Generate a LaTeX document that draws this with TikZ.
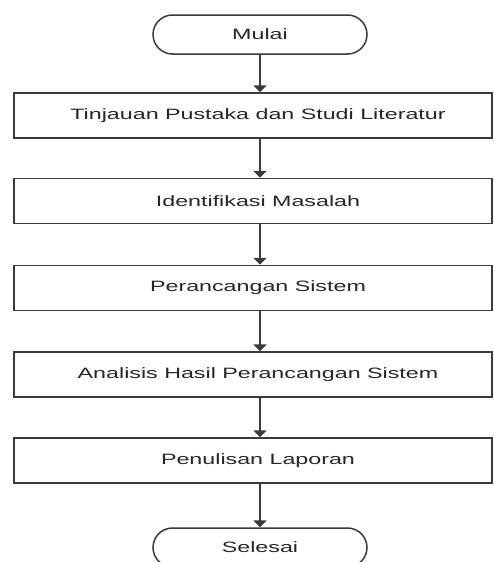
\documentclass[tikz,border=0pt]{standalone}
\usepackage{fontspec}
\setmainfont{Liberation Sans}
\usetikzlibrary{shapes.misc,arrows.meta}
\definecolor{linec}{HTML}{3A3A3A}
\definecolor{textc}{HTML}{262626}
\newcommand{\wtext}[1]{\scalebox{1.55}[1]{#1}}
\tikzset{
  procbox/.style={draw=linec, line width=1.5pt, fill=white, minimum width=478pt, minimum height=45pt, inner sep=0pt, text=textc, font=\fontsize{15pt}{18pt}\selectfont},
  termbox/.style={draw=linec, line width=1.5pt, fill=white, rounded rectangle, minimum width=214pt, minimum height=39pt, inner sep=0pt, text=textc, font=\fontsize{15pt}{18pt}\selectfont},
  flow/.style={draw=linec, line width=1.8pt, -{Triangle[width=13pt,length=7pt]}}
}
\begin{document}
\begin{tikzpicture}[x=1pt,y=-1pt]
\clip (0,0) rectangle (493,562);
\fill[white] (0,0) rectangle (493,562);
\node[termbox] (start) at (260,34.5) {\wtext{Mulai}};
\node[procbox] (b1) at (253,115.5) {\hspace*{10pt}\wtext{Tinjauan Pustaka dan Studi Literatur}};
\node[procbox] (b2) at (253,201) {\hspace*{10pt}\wtext{Identifikasi Masalah}};
\node[procbox] (b3) at (253,288) {\hspace*{10pt}\wtext{Perancangan Sistem}};
\node[procbox] (b4) at (253,374.5) {\hspace*{10pt}\wtext{Analisis Hasil Perancangan Sistem}};
\node[procbox] (b5) at (253,460.5) {\hspace*{10pt}\wtext{Penulisan Laporan}};
\node[termbox] (end) at (260,547.5) {\wtext{Selesai}};
\draw[flow] (start.south) -- (start.south |- b1.north);
\draw[flow] (b1.south -| start) -- (b2.north -| start);
\draw[flow] (b2.south -| start) -- (b3.north -| start);
\draw[flow] (b3.south -| start) -- (b4.north -| start);
\draw[flow] (b4.south -| start) -- (b5.north -| start);
\draw[flow] (b5.south -| start) -- (end.north);
\end{tikzpicture}
\end{document}
